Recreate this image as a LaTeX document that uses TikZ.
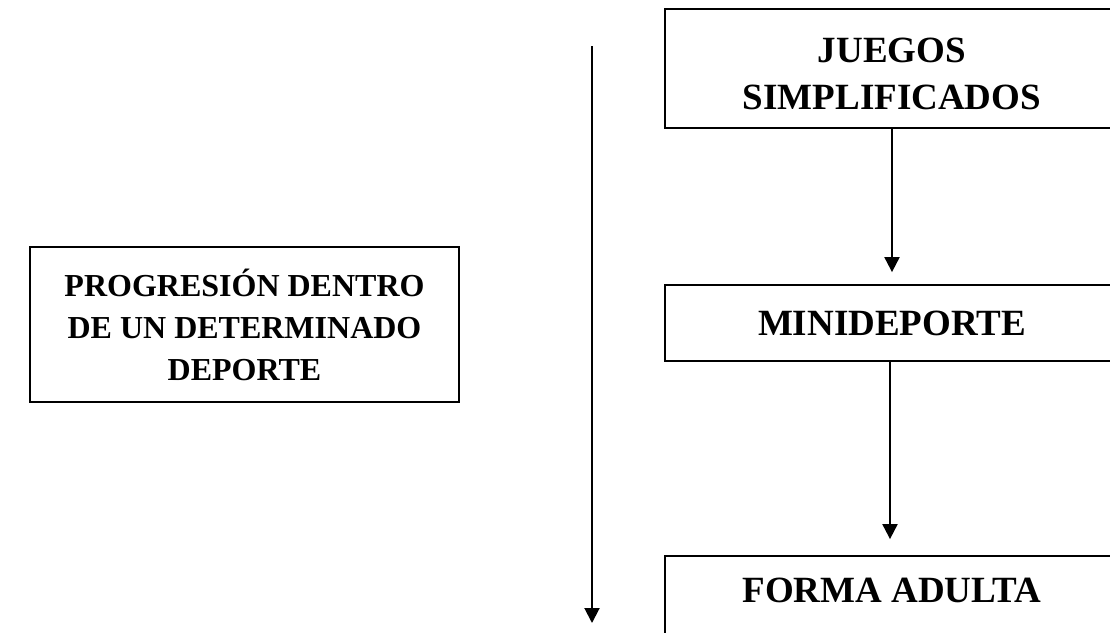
\documentclass[tikz,border=0pt]{standalone}
\usepackage{fontspec}
\setmainfont{Liberation Serif}
\usetikzlibrary{arrows.meta}
\begin{document}
\begin{tikzpicture}[x=1pt,y=-1pt,
  boxstyle/.style={draw=black,line width=1.8pt,rectangle,inner sep=0pt,align=center,font=\bfseries},
  bigtext/.style={font=\fontsize{37}{47}\selectfont\bfseries},
  midtext/.style={font=\fontsize{32}{42}\selectfont\bfseries},
  flow/.style={line width=2pt,-{Triangle[width=15pt,length=15pt]}}]
\useasboundingbox (0,0) rectangle (1110,632);
\clip (0,0) rectangle (1110,632);
\fill[white] (0,0) rectangle (1110,632);
% left box
\node[boxstyle,midtext,minimum width=429pt,minimum height=155pt] (prog) at (244.5,324.5) {PROGRESIÓN DENTRO\\DE UN DETERMINADO\\DEPORTE};
% main arrow
\coordinate (mtop) at (592,46);
\coordinate (mbot) at (592,623);
\draw[flow] (mtop) -- (mbot);
% right boxes
\node[boxstyle,minimum width=454pt,minimum height=119pt] (juegos) at (892,68.5) {};
\node[bigtext,align=center] (juegostext) at (892,74) {JUEGOS\\SIMPLIFICADOS};
\node[boxstyle,bigtext,minimum width=454pt,minimum height=76pt] (mini) at (892,323) {MINIDEPORTE};
\node[boxstyle,minimum width=454pt,minimum height=160pt] (forma) at (892,636) {};
\node[bigtext,anchor=base] (formatext) at (892,602) {FORMA ADULTA};
% connectors
\draw[flow] (juegos.south -| 892,0) -- ([yshift=12pt]mini.north -| 892,0);
\draw[flow] (mini.south -| 890,0) -- ([yshift=16pt]forma.north -| 890,0);
\end{tikzpicture}
\end{document}
